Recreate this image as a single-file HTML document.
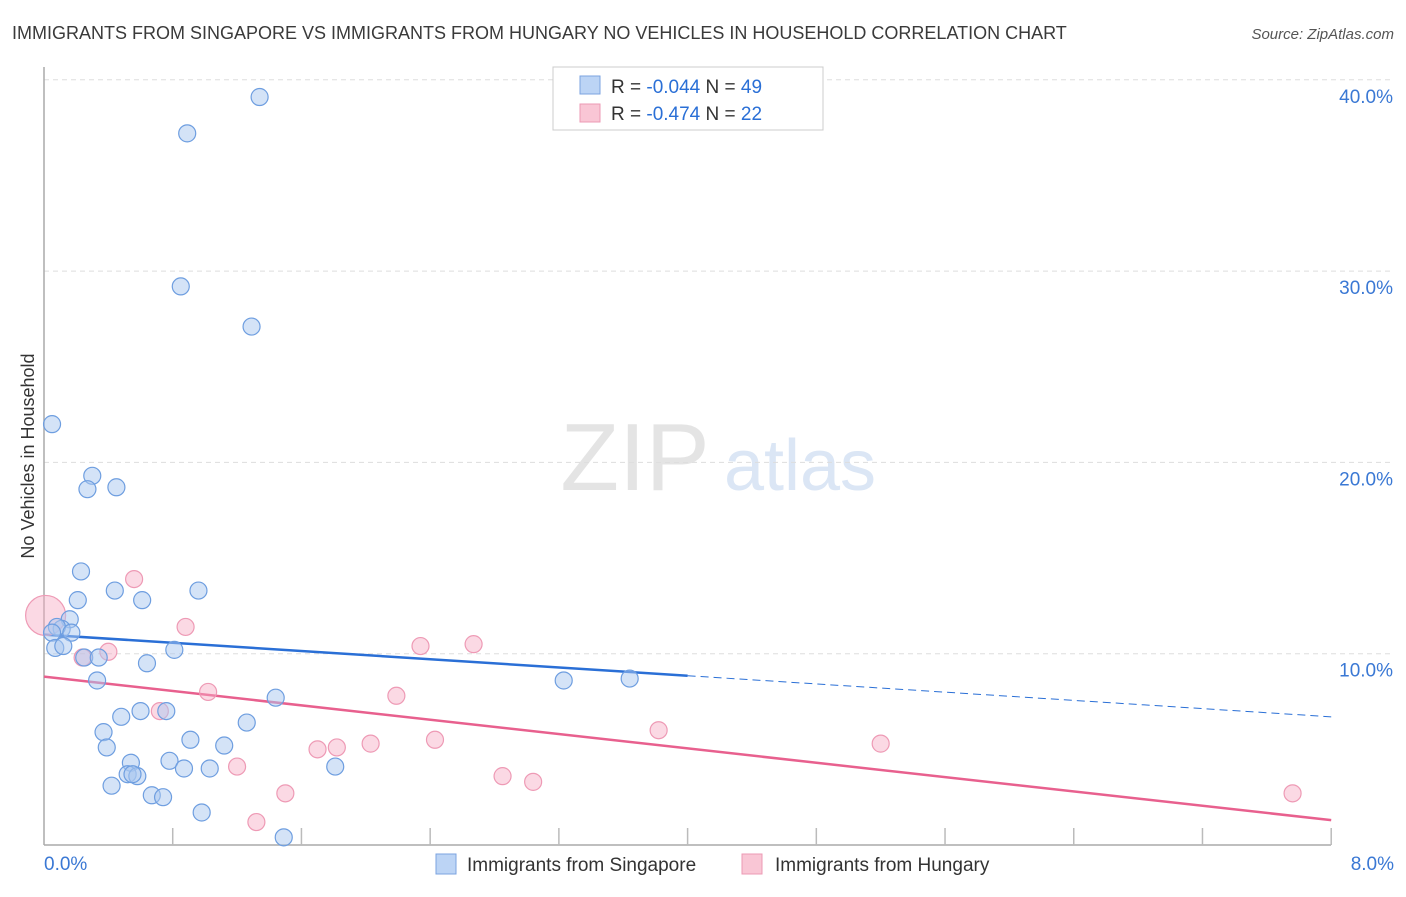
<!DOCTYPE html>
<html><head><meta charset="utf-8"><style>
body{margin:0;background:#fff;font-family:"Liberation Sans",sans-serif;}
svg text{font-family:"Liberation Sans",sans-serif;}
</style></head><body>
<svg id="chart" width="1406" height="892" xmlns="http://www.w3.org/2000/svg">
<text x="12" y="39" font-size="18" fill="#3a3a3a">IMMIGRANTS FROM SINGAPORE VS IMMIGRANTS FROM HUNGARY NO VEHICLES IN HOUSEHOLD CORRELATION CHART</text>
<text x="1394" y="39" font-size="15" fill="#555" text-anchor="end" font-style="italic">Source: ZipAtlas.com</text>
<g>
<text x="635" y="490" font-size="96" fill="#e4e4e4" text-anchor="middle" font-family="Liberation Serif">ZIP</text>
<text x="800" y="490" font-size="72" fill="#dbe6f5" text-anchor="middle">atlas</text>
</g>
<g id="grid"></g>
<g id="axes"></g>
<g id="trends"></g>
<g id="pts"></g>
<text transform="translate(34,456) rotate(-90)" font-size="18" fill="#333" text-anchor="middle">No Vehicles in Household</text>
<g>
<rect x="553" y="67" width="270" height="63" fill="#fff" stroke="#ccc"/>
<rect x="580" y="76" width="20" height="18" fill="#bcd4f5" stroke="#7ba3e0"/>
<rect x="580" y="104" width="20" height="18" fill="#f9c6d5" stroke="#ec9ab4"/>
<text x="611" y="93" font-size="19" fill="#333">R = <tspan fill="#2a6fd6">-0.044</tspan>   N = <tspan fill="#2a6fd6">49</tspan></text>
<text x="611" y="120" font-size="19" fill="#333">R =  <tspan fill="#2a6fd6">-0.474</tspan>   N =  <tspan fill="#2a6fd6">22</tspan></text>
</g>
<g>
<rect x="436" y="854" width="20" height="20" fill="#bcd4f5" stroke="#7ba3e0"/>
<text x="467" y="871" font-size="19" fill="#333">Immigrants from Singapore</text>
<rect x="742" y="854" width="20" height="20" fill="#f9c6d5" stroke="#ec9ab4"/>
<text x="775" y="871" font-size="19" fill="#333">Immigrants from Hungary</text>
</g>
</svg>
<script>
const yTicks=[10,20,30,40];
const yTickLabels=["10.0%","20.0%","30.0%","40.0%"];
const xTickLabels=["0.0%","8.0%"];
const sgX=[1.34,0.89,0.85,1.29,0.05,0.30,0.27,0.45,0.23,0.21,0.44,0.61,0.96,0.16,0.11,0.08,0.17,0.05,0.07,0.12,0.25,0.34,0.64,0.81,0.33,1.44,3.23,3.64,0.48,0.60,0.76,0.37,1.26,0.39,0.91,1.12,0.54,0.78,0.52,0.58,0.87,1.03,0.42,0.67,0.74,1.81,0.98,1.49,0.55];
const sgY=[39.1,37.2,29.2,27.1,22.0,19.3,18.6,18.7,14.3,12.8,13.3,12.8,13.3,11.8,11.3,11.4,11.1,11.1,10.3,10.4,9.8,9.8,9.5,10.2,8.6,7.7,8.6,8.7,6.7,7.0,7.0,5.9,6.4,5.1,5.5,5.2,4.3,4.4,3.7,3.6,4.0,4.0,3.1,2.6,2.5,4.1,1.7,0.4,3.7];
const huX=[0.01,0.56,0.88,0.40,0.24,0.72,1.02,2.19,2.34,2.67,3.82,2.43,2.03,1.82,1.70,5.20,1.20,2.85,3.04,1.50,1.32,7.76];
const huY=[12.0,13.9,11.4,10.1,9.8,7.0,8.0,7.8,10.4,10.5,6.0,5.5,5.3,5.1,5.0,5.3,4.1,3.6,3.3,2.7,1.2,2.7];
const sgTrend=[11.0,8.85,6.7];
const huTrend=[8.8,1.3];
const NS="http://www.w3.org/2000/svg";
const X=v=>44+v*160.9;
const Y=v=>845-v*19.13;
function mk(tag,attrs,parent){const e=document.createElementNS(NS,tag);for(const k in attrs)e.setAttribute(k,attrs[k]);parent.appendChild(e);return e;}
const grid=document.getElementById('grid'),axes=document.getElementById('axes'),trends=document.getElementById('trends'),pts=document.getElementById('pts');
yTicks.forEach((t,i)=>{
 const l=mk('line',{x1:44,x2:1394,y1:Y(t),y2:Y(t),stroke:'#ddd','stroke-dasharray':'5,4'},grid);
 
 
 const tx=mk('text',{x:1393,y:Y(t)+23,'font-size':19,fill:'#3a78d4','text-anchor':'end'},axes);
 tx.textContent=yTickLabels[i];
 
 
});
mk('line',{x1:44,x2:44,y1:67,y2:845,stroke:'#aaa','stroke-width':1.5},axes);
mk('line',{x1:44,x2:1331,y1:845,y2:845,stroke:'#aaa','stroke-width':1.5},axes);
for(let i=1;i<=10;i++){const x=X(i*0.8);const t=mk('line',{x1:x,x2:x,y1:828,y2:845,stroke:'#bbb','stroke-width':1.5},axes);}
[[0,'start',44],[8,'end',1394]].forEach((a,i)=>{const t=mk('text',{x:a[2],y:870,'font-size':19,fill:'#3a78d4','text-anchor':a[1]},axes);t.textContent=xTickLabels[i];});
const tb=mk('line',{x1:X(0),y1:Y(sgTrend[0]),x2:X(4),y2:Y(sgTrend[1]),stroke:'#2a6fd6','stroke-width':2.5},trends);


const tbd=mk('line',{x1:X(4),y1:Y(sgTrend[1]),x2:X(8),y2:Y(sgTrend[2]),stroke:'#2a6fd6','stroke-width':1,'stroke-dasharray':'8,5'},trends);


const tp=mk('line',{x1:X(0),y1:Y(huTrend[0]),x2:X(8),y2:Y(huTrend[1]),stroke:'#e8608e','stroke-width':2.5},trends);


huX.forEach((x,i)=>{const c=mk('circle',{cx:X(x),cy:Y(huY[i]),r:i===0?20:8.5,fill:'rgba(246,170,195,0.45)',stroke:'#ee9ab5','stroke-width':1.2},pts);
 
 });
sgX.forEach((x,i)=>{const c=mk('circle',{cx:X(x),cy:Y(sgY[i]),r:8.5,fill:'rgba(170,200,240,0.5)',stroke:'#6e9ee0','stroke-width':1.2},pts);
 
 });
</script>
</body></html>
